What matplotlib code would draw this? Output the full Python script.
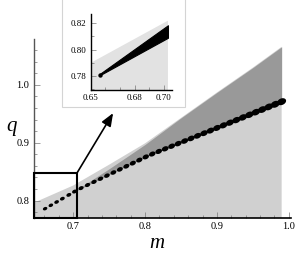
import numpy as np
import matplotlib
matplotlib.use('Agg')
import matplotlib.pyplot as plt
from matplotlib.patches import Rectangle
from matplotlib.ticker import MultipleLocator

# chain of black dots
dot_m = [0.661, 0.669, 0.677, 0.685, 0.694, 0.702, 0.711, 0.720, 0.729, 0.738,
         0.747, 0.756, 0.765, 0.774, 0.783, 0.792, 0.801, 0.810, 0.819, 0.828,
         0.837, 0.846, 0.855, 0.864, 0.873, 0.882, 0.891, 0.900, 0.909, 0.918,
         0.927, 0.936, 0.945, 0.954, 0.963, 0.972, 0.981, 0.990]
dot_q = [0.786, 0.7918, 0.7975, 0.8033, 0.8098, 0.8156, 0.8215, 0.8269, 0.8323, 0.8377,
         0.8431, 0.8485, 0.8539, 0.8593, 0.8647, 0.8701, 0.8755, 0.8805, 0.885, 0.8895,
         0.894, 0.8985, 0.903, 0.9075, 0.912, 0.9165, 0.921, 0.9256, 0.9301, 0.9347,
         0.9392, 0.9438, 0.9483, 0.9529, 0.9574, 0.962, 0.9665, 0.971]

# upper edge of the whole grey region
edge_m = [0.645, 0.70, 0.75, 0.80, 0.85, 0.90, 0.95, 0.99]
edge_q = [0.796, 0.826, 0.862, 0.899, 0.943, 0.987, 1.030, 1.066]

# upper edge of the dark grey band (lower edge is the dot chain)
dark_m = [0.70, 0.75, 0.80, 0.85, 0.90, 0.95, 0.99]
dark_q = [0.815, 0.855, 0.897, 0.943, 0.987, 1.030, 1.066]

# inset (zoom on the box)
ins_edge_m = [0.65, 0.703]
ins_edge_q = [0.790, 0.822]
wedge_m = [0.656, 0.703]
wedge_lo = [0.7805, 0.809]
wedge_hi = [0.7815, 0.8185]

light = '#d0d0d0'
dark = '#999999'
serif = 'Liberation Serif'

fig = plt.figure(figsize=(3.0, 2.6), dpi=100)
ax = fig.add_axes([0.112, 0.161, 0.858, 0.688])

ax.fill_between(edge_m, 0.0, edge_q, color=light, lw=0, zorder=1)
dm = np.array(dark_m)
ax.fill_between(dm, np.interp(dm, dot_m, dot_q), dark_q, color=dark, lw=0, zorder=2)

# slightly flattened ellipse tilted along the chain
t = np.linspace(0, 2 * np.pi, 40)
ang = np.radians(24)
ex, ey = np.cos(t), 0.7 * np.sin(t)
ell = np.column_stack([ex * np.cos(ang) - ey * np.sin(ang),
                       ex * np.sin(ang) + ey * np.cos(ang)])

m_arr = np.array(dot_m)
grow = (m_arr - m_arr[0]) / (m_arr[-1] - m_arr[0])
sizes = (3.2 + 3.2 * grow) ** 2
ax.scatter(dot_m, dot_q, s=sizes, c='black', lw=0, zorder=3, marker=ell)

ax.set_xlim(0.645, 1.003)
ax.set_ylim(0.7696, 1.079)
ax.spines[['right', 'top']].set_visible(False)
ax.spines['bottom'].set_linewidth(1.2)
ax.spines['left'].set_linewidth(1.0)
ax.spines['left'].set_color('#555555')
ax.xaxis.set_major_locator(MultipleLocator(0.1))
ax.xaxis.set_minor_locator(MultipleLocator(0.02))
ax.yaxis.set_major_locator(MultipleLocator(0.1))
ax.yaxis.set_minor_locator(MultipleLocator(0.02))
ax.tick_params(which='both', direction='in', width=0.5, color='#777777', labelsize=7.5, pad=3)
ax.tick_params(which='major', length=4)
ax.tick_params(which='minor', length=2)
ax.set_xticks([0.7, 0.8, 0.9, 1.0])
ax.set_xticklabels(['0.7', '0.8', '0.9', '1.0'], family=serif)
ax.set_yticks([0.8, 0.9, 1.0])
ax.set_yticklabels(['0.8', '0.9', '1.0'], family=serif)

# zoom box and arrow
ax.add_patch(Rectangle((0.645, 0.7696), 0.0605, 0.0784, fill=False, ec='black', lw=1.5,
                       clip_on=False, zorder=5))
ax.annotate('', xy=(0.377, 0.565), xycoords='figure fraction',
            xytext=(0.7055, 0.848), textcoords='data',
            arrowprops=dict(arrowstyle='-|>,head_length=0.7,head_width=0.28',
                            color='black', lw=1.2, shrinkA=0, shrinkB=0,
                            mutation_scale=11))

fig.text(12 / 300, 1 - 127 / 260, 'q', family=serif, style='italic', size=15,
         ha='center', va='center')
fig.text(157 / 300, 1 - 243 / 260, 'm', family=serif, style='italic', size=15,
         ha='center', va='center')

# inset frame
fig.patches.append(Rectangle((62 / 300, 1 - 107 / 260), 123 / 300, 0.5,
                             transform=fig.transFigure, fc='white', ec='#d4d4d4',
                             lw=0.8, zorder=10))

ins = fig.add_axes([0.303, 0.654, 0.269, 0.292], zorder=11)
ins.set_facecolor('white')
ins.fill_between(ins_edge_m, 0.0, ins_edge_q, color='#e2e2e2', lw=0)
ins.fill_between(wedge_m, wedge_lo, wedge_hi, color='black', lw=0.8, ec='black')
ins.scatter([wedge_m[0]], [wedge_lo[0] + 0.0005], s=10, c='black', lw=0)
ins.set_xlim(0.65, 0.7055)
ins.set_ylim(0.7694, 0.827)
ins.spines[['right', 'top']].set_visible(False)
ins.spines['bottom'].set_linewidth(1.0)
ins.spines['left'].set_linewidth(1.0)
ins.xaxis.set_minor_locator(MultipleLocator(0.01))
ins.yaxis.set_minor_locator(MultipleLocator(0.01))
ins.tick_params(which='both', direction='in', width=0.5, color='#777777', labelsize=6.5, pad=3)
ins.tick_params(which='major', length=3.5)
ins.tick_params(which='minor', length=2)
ins.set_xticks([0.65, 0.68, 0.70])
ins.set_xticklabels(['0.65', '0.68', '0.70'], family=serif)
ins.set_yticks([0.78, 0.80, 0.82])
ins.set_yticklabels(['0.78', '0.80', '0.82'], family=serif)

fig.savefig('out.png', dpi=100)
